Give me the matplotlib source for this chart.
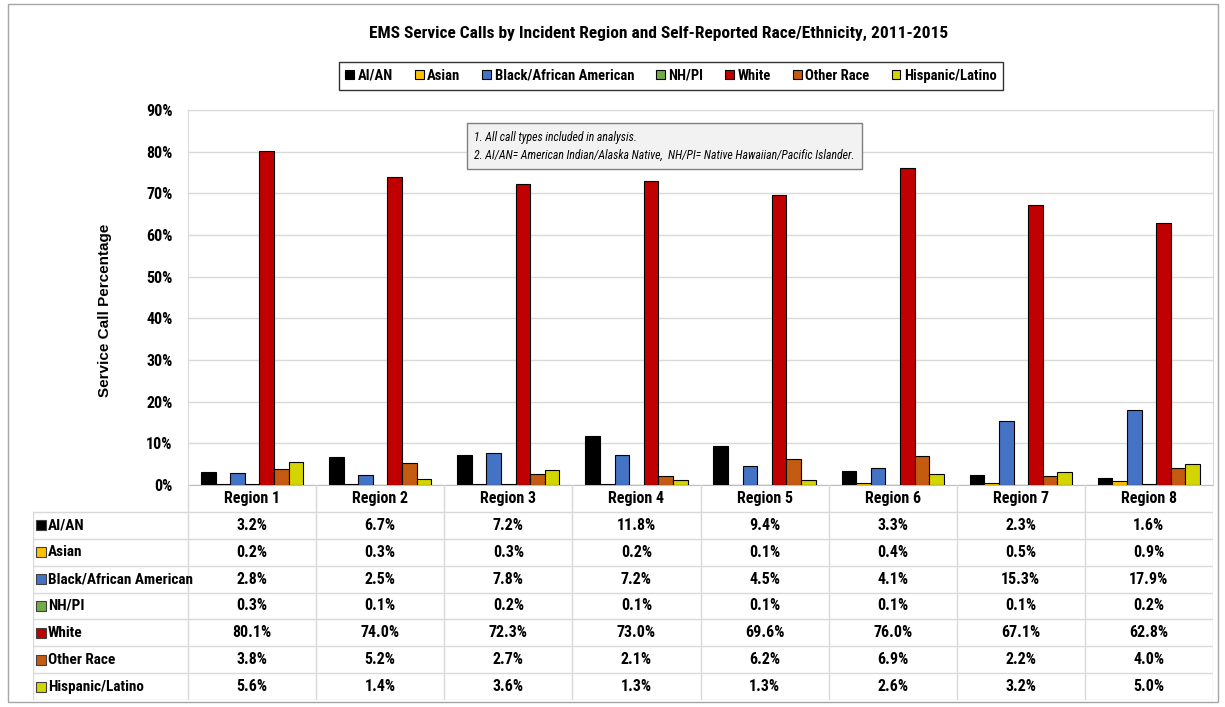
import matplotlib.pyplot as plt
from matplotlib.patches import Rectangle
from matplotlib.lines import Line2D
from matplotlib.ticker import PercentFormatter
import numpy as np
import logging

logging.getLogger("matplotlib.font_manager").setLevel(logging.ERROR)

regions = ["Region 1", "Region 2", "Region 3", "Region 4",
           "Region 5", "Region 6", "Region 7", "Region 8"]
groups = ["AI/AN", "Asian", "Black/African American", "NH/PI",
          "White", "Other Race", "Hispanic/Latino"]

ai_an = [3.2, 6.7, 7.2, 11.8, 9.4, 3.3, 2.3, 1.6]
asian = [0.2, 0.3, 0.3, 0.2, 0.1, 0.4, 0.5, 0.9]
black = [2.8, 2.5, 7.8, 7.2, 4.5, 4.1, 15.3, 17.9]
nh_pi = [0.3, 0.1, 0.2, 0.1, 0.1, 0.1, 0.1, 0.2]
white = [80.1, 74.0, 72.3, 73.0, 69.6, 76.0, 67.1, 62.8]
other = [3.8, 5.2, 2.7, 2.1, 6.2, 6.9, 2.2, 4.0]
hispanic = [5.6, 1.4, 3.6, 1.3, 1.3, 2.6, 3.2, 5.0]

series = [ai_an, asian, black, nh_pi, white, other, hispanic]
colors = ["#000000", "#FFC000", "#4472C4", "#70AD47",
          "#C00000", "#C55A11", "#D4D400"]

NARROW = ["Liberation Sans Narrow", "Arial Narrow", "Roboto Condensed",
          "PT Sans Narrow", "Barlow Semi Condensed", "DejaVu Sans"]
GRID = "#D9D9D9"

W, H = 1225, 707
fig = plt.figure(figsize=(W / 100, H / 100), dpi=100)


def fx(px):
    return px / W


def fy(py):
    return 1 - py / H


# outer frame
fig.patches.append(Rectangle((fx(8), fy(702)), fx(1210), (702 - 4) / H,
                             transform=fig.transFigure, fill=False,
                             edgecolor="#A6A6A6", lw=1))

# main plot area
pl, pr, pt, pb = 188, 1213, 110, 485
ax = fig.add_axes([fx(pl), fy(pb), fx(pr - pl), (pb - pt) / H])
n = len(regions)
x = np.arange(n)
bw = 0.114
for i, (vals, c) in enumerate(zip(series, colors)):
    ax.bar(x + (i - 3) * bw, vals, bw, color=c, edgecolor="black", lw=0.8,
           label=groups[i], zorder=3)
ax.set_xlim(-0.5, n - 0.5)
ax.set_ylim(0, 90)
ax.set_yticks(range(0, 91, 10))
ax.yaxis.set_major_formatter(PercentFormatter(decimals=0))
ax.set_xticks([])
ax.grid(axis="y", color=GRID, lw=1, zorder=0)
for s in ax.spines.values():
    s.set_color(GRID)
ax.spines["bottom"].set_color("#BFBFBF")
ax.tick_params(axis="y", length=0, pad=11)
for t in ax.get_yticklabels():
    t.set_family(NARROW)
    t.set_fontweight("bold")
    t.set_fontsize(11.5)
fig.text(fx(105), fy(310), "Service Call Percentage", rotation=90,
         ha="center", va="center", fontsize=11, fontweight="bold",
         family=["Liberation Sans", "DejaVu Sans"])

# data table below the plot
tl, tb = 33, 700
ppu = (pr - pl) / n
tax = fig.add_axes([fx(tl), fy(tb), fx(pr - tl), (tb - pb) / H])
tax.set_xlim(-0.5 - (pl - tl) / ppu, n - 0.5)
tax.set_ylim(len(groups) + 1, 0)
tax.axis("off")
x0 = tax.get_xlim()[0]
nrow = len(groups) + 1
for r in range(1, nrow + 1):
    tax.add_line(Line2D([x0, n - 0.5], [r, r], color=GRID, lw=1))
tax.add_line(Line2D([x0, x0], [1, nrow], color=GRID, lw=1))
for k in range(n + 1):
    tax.add_line(Line2D([k - 0.5, k - 0.5], [0, nrow], color=GRID, lw=1))
for k, reg in enumerate(regions):
    tax.text(k, 0.5, reg, ha="center", va="center", fontsize=11.5,
             fontweight="bold", family=NARROW)
kx = x0 + 0.065
for r, (g, vals, c) in enumerate(zip(groups, series, colors)):
    yy = r + 1.5
    tax.plot([kx], [yy], marker="s", ms=7, mfc=c, mec="#404040", mew=0.8)
    tax.text(kx + 0.05, yy, g, ha="left", va="center", fontsize=11,
             fontweight="bold", family=NARROW)
    for k, v in enumerate(vals):
        tax.text(k, yy, f"{v:.1f}%", ha="center", va="center", fontsize=11.5,
                 fontweight="bold", family=NARROW)

# title
fig.text(fx(659), fy(33), "EMS Service Calls by Incident Region and Self-Reported Race/Ethnicity, 2011-2015",
         ha="center", va="center", fontsize=12.5, fontweight="bold", family=NARROW)

# legend
handles, labels = ax.get_legend_handles_labels()
leg = fig.legend(handles, labels, loc="center", bbox_to_anchor=(fx(671), fy(76)),
                 ncol=7, frameon=True, fancybox=False, edgecolor="black",
                 handlelength=0.6, handleheight=0.6, handletextpad=0.25,
                 columnspacing=1.5, borderpad=0.45,
                 prop={"family": NARROW, "weight": "bold", "size": 10.5})
leg.get_frame().set_linewidth(1)

# note box
fig.text(fx(474), fy(146),
         "1. All call types included in analysis.\n"
         "2. AI/AN= American Indian/Alaska Native,  NH/PI= Native Hawaiian/Pacific Islander.",
         ha="left", va="center", fontsize=8.5, style="italic", family=NARROW,
         linespacing=1.5,
         bbox=dict(boxstyle="square,pad=0.6", facecolor="#F2F2F2", edgecolor="#7F7F7F", lw=1))

fig.savefig("out.png", dpi=100)
